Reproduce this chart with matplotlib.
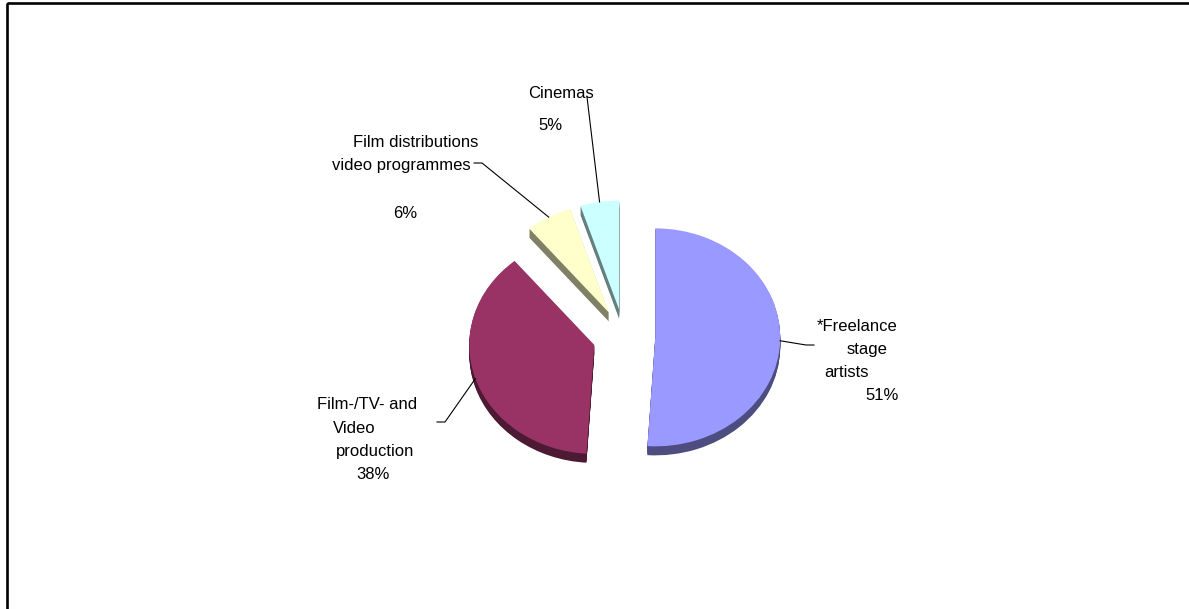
import numpy as np
import matplotlib.pyplot as plt
from matplotlib.patches import Rectangle

plt.rcParams['font.family'] = ['Liberation Sans', 'DejaVu Sans']

# shares by branch (%)
branches = ['*Freelance stage artists', 'Film-/TV- and Video production',
            'Film distributions video programmes', 'Cinemas']
shares = [51, 38, 6, 5]
top_colors = ['#9999FF', '#993366', '#FFFFCC', '#CCFFFF']
side_colors = ['#4D4D80', '#4D1A33', '#808066', '#668080']

W, H = 1189, 609
cx, cy = 624, 336.5      # pie centre, pixels
rx, ry = 125, 109        # half axes of the tilted pie, pixels
depth = 9 / ry           # thickness of the 3d side

def pix(x, y):
    # pixel position -> data units of the pie axes
    return (x - cx) / rx, (cy - y) / ry

fig = plt.figure(figsize=(W / 100, H / 100), dpi=100)
ax = fig.add_axes([0, 0, 1, 1])

explode = [0.25] * len(shares)
kw = dict(explode=explode, startangle=90, counterclock=False,
          wedgeprops=dict(linewidth=0))

# side walls: stacked copies shifted down
for off in np.linspace(depth, depth / 10, 10):
    ax.pie(shares, colors=side_colors, center=(0, -off), **kw)
wedges, _ = ax.pie(shares, colors=top_colors, center=(0, 0), **kw)

ax.set_aspect('auto')
ax.set_xlim(pix(0, 0)[0], pix(W, 0)[0])
ax.set_ylim(pix(0, H)[1], pix(0, 0)[1])
ax.axis('off')

# label lines: (text, left x, baseline y) in pixels
label_lines = [
    [('*Freelance', 817, 331), ('stage', 847, 354), ('artists', 824, 377), ('51%', 865, 400)],
    [('Film-/TV- and', 317, 409), ('Video', 333, 433), ('production', 336, 456), ('38%', 356, 479)],
    [('Film distributions', 353, 147), ('video programmes', 332, 170), ('6%', 393, 218)],
    [('Cinemas', 528, 98), ('5%', 538, 130)],
]
for lines in label_lines:
    for txt, x, y in lines:
        ax.text(*pix(x, y), txt, fontsize=12, ha='left', va='baseline')

# leader lines from the label to the middle of each slice
leaders = [
    [(814, 345), (806, 345)],
    [(437, 422), (445, 422)],
    [(474, 163), (482, 163)],
    [(587, 97)],
]
for w, pts in zip(wedges, leaders):
    mid = np.deg2rad((w.theta1 + w.theta2) / 2)
    ax_, ay_ = w.center[0] + np.cos(mid), w.center[1] + np.sin(mid)
    xs = [pix(*p)[0] for p in pts] + [ax_]
    ys = [pix(*p)[1] for p in pts] + [ay_]
    ax.plot(xs, ys, color='black', lw=0.8)

# chart area border
fig.patches.append(Rectangle((7 / W, 1 - 3 / H), 2, -2, transform=fig.transFigure,
                             fill=False, edgecolor='black', lw=1.9))

fig.savefig('out.png', dpi=100)
